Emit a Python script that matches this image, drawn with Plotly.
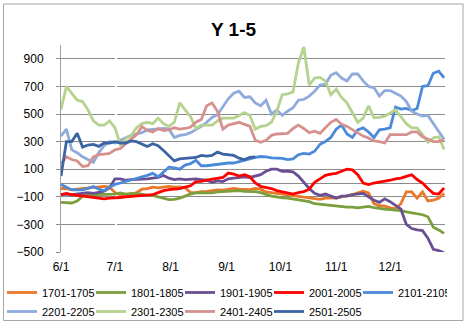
import pandas as pd
import plotly.graph_objects as go

# Sample dates: every third day from 1 June to 31 December
dates = pd.date_range("2019-06-01", periods=72, freq="3D")

s1701 = [-40, -40, -48, -45, -40, -38, -35, -30, -25, -30, -70, -85, -85, -85, -70, -45,
         -40, -30, -35, -30, -25, -30, -28, -35, -70, -70, -62, -60, -55, -50, -52, -48,
         -40, -45, -45, -48, -40, -45, -65, -72, -75, -80, -85, -90, -97, -100, -105, -115,
         -118, -110, -110, -108, -100, -95, -85, -72, -60, -72, -150, -165, -168, -180, -185, -150,
         -65, -65, -110, -65, -130, -125, -110, -75]
s1801 = [-140, -140, -145, -130, -95, -85, -85, -85, -85, -82, -80, -72, -80, -75, -75, -80,
         -90, -90, -100, -110, -120, -118, -110, -95, -80, -72, -72, -75, -72, -65, -62, -60,
         -58, -55, -60, -60, -62, -70, -85, -95, -100, -108, -110, -115, -120, -125, -135, -150,
         -155, -160, -165, -168, -170, -175, -175, -180, -175, -170, -178, -185, -190, -193, -195, -200,
         -210, -215, -225, -230, -245, -320, -340, -365]
s1901 = [-85, -80, -85, -80, -75, -70, -75, -70, -60, -35, 30, 30, 20, 25, 25, 30,
         30, 35, 40, 55, 35, 25, 30, 25, 30, 30, 25, 20, 5, 15, 10, 30,
         35, 40, 45, 40, 50, 60, 85, 100, 100, 85, 85, 80, 50, 5, -40, -75,
         -90, -80, -95, -110, -95, -95, -85, -80, -75, -100, -125, -140, -115, -135, -160, -190,
         -300, -330, -340, -345, -400, -480, -490, -505]
s2001 = [-85, -75, -85, -90, -95, -105, -110, -115, -115, -110, -110, -105, -100, -98, -95, -90,
         -90, -85, -70, -55, -48, -45, -40, -30, -20, 10, 12, 20, 25, 30, 40, 72,
         65, 50, 60, 45, 0, -24, -30, -40, -55, -62, -72, -80, -70, -62, -45, 5,
         30, 55, 65, 70, 85, 100, 95, 60, 0, -12, 0, 5, 10, 20, 30, 35,
         48, 60, 25, 0, -40, -75, -80, -36]
s2101 = [-10, -30, -50, -50, -50, -40, -25, -45, -55, -30, -10, 0, 10, 20, 30, 45,
         55, 70, 45, 80, 115, 110, 100, 130, 140, 165, 125, 125, 130, 140, 145, 145,
         145, 155, 170, 180, 185, 192, 190, 182, 180, 178, 170, 175, 205, 215, 210, 230,
         280, 300, 330, 390, 420, 355, 330, 385, 400, 370, 330, 385, 390, 400, 550, 535,
         540, 525, 540, 700, 705, 795, 810, 762]
s2201 = [340, 390, 240, 220, 190, 170, 150, 220, 270, 300, 290, 310, 330, 345, 355, 365,
         385, 390, 395, 395, 390, 330, 345, 350, 365, 385, 410, 440, 475, 495, 555, 610,
         650, 665, 620, 625, 580, 560, 600, 500, 530, 490, 520, 545, 600, 605, 630, 665,
         710, 715, 780, 800, 760, 740, 790, 790, 740, 700, 690, 630, 670, 670, 650, 630,
         590, 520, 500, 485, 490, 430, 380, 315]
s2301 = [533, 700, 650, 600, 590, 530, 450, 420, 420, 450, 400, 280, 320, 345, 400, 430,
         440, 430, 470, 430, 410, 440, 580, 530, 480, 395, 420, 420, 420, 450, 470, 470,
         470, 490, 510, 490, 390, 410, 415, 440, 520, 640, 645, 660, 870, 985, 710, 760,
         765, 740, 640, 680, 620, 580, 510, 440, 470, 560, 472, 475, 484, 509, 530, 480,
         430, 400, 400, 350, 295, 327, 335, 243]
s2401 = [140, 190, 170, 160, 120, 125, 190, 205, 210, 215, 240, 250, 285, 320, 350, 410,
         380, 370, 395, 380, 385, 400, 390, 395, 405, 440, 460, 560, 580, 520, 390, 420,
         430, 440, 425, 412, 310, 295, 310, 345, 355, 355, 360, 395, 420, 395, 365, 375,
         360, 400, 440, 460, 425, 410, 385, 360, 340, 325, 305, 300, 290, 350, 350, 355,
         350, 370, 370, 335, 320, 300, 300, 315]
s2501 = [50, 300, 300, 360, 260, 275, 280, 265, 290, 290, 300, 290, 290, 305, 300, 280,
         265, 285, 270, 235, 195, 160, 175, 180, 185, 185, 200, 195, 200, 225, 210, 205,
         200, 180, 170, 185, 190] + [None] * 35

names = ["1701-1705", "1801-1805", "1901-1905", "2001-2005", "2101-2105",
         "2201-2205", "2301-2305", "2401-2405", "2501-2505"]
series = [s1701, s1801, s1901, s2001, s2101, s2201, s2301, s2401, s2501]
colors = ["#E8792A", "#7A9F3E", "#6A4F92", "#FF0000", "#4A8AD8",
          "#8FAADC", "#B5D28F", "#D6918F", "#3B64A2"]

month_ticks = pd.date_range("2019-06-01", "2019-12-01", freq="MS")
month_labels = [f"{d.month}/{d.day}" for d in month_ticks]

FONT = "Liberation Sans"
GRID = "#8C8C8C"

fig = go.Figure()
for name, vals, col in zip(names, series, colors):
    fig.add_trace(go.Scatter(x=dates, y=vals, name=name, mode="lines",
                             line=dict(color=col, width=2.8)))

# axis line with month ticks along the zero level
fig.add_trace(go.Scatter(x=[], y=[], xaxis="x2", showlegend=False, hoverinfo="skip"))

x_range = [pd.Timestamp("2019-06-01"), pd.Timestamp("2019-12-31 12:00")]

fig.update_layout(
    width=467, height=323,
    margin=dict(l=61, r=22, t=45, b=71, autoexpand=False),
    paper_bgcolor="white", plot_bgcolor="white",
    font=dict(family=FONT, size=12, color="black"),
    title=dict(text="<b>Y 1-5</b>", x=0.5, xanchor="center", y=0.91, yanchor="middle",
               font=dict(family=FONT, size=19, color="black")),
    xaxis=dict(range=x_range, tickvals=month_ticks, ticktext=month_labels,
               showgrid=False, showline=False, zeroline=False, ticks="",
               ticklabelstandoff=6, tickfont=dict(size=12)),
    xaxis2=dict(overlaying="x", matches="x", anchor="free", position=1 / 3,
                tickvals=month_ticks, showticklabels=False, showgrid=False,
                showline=False, ticks="outside", ticklen=4, tickcolor=GRID),
    yaxis=dict(range=[-500, 1000], tick0=-500, dtick=200, showgrid=True,
               gridcolor=GRID, gridwidth=1, zeroline=True, zerolinecolor=GRID,
               zerolinewidth=1, showline=True, linecolor="#A0A0A0", linewidth=1,
               ticks="outside", ticklen=4, tickcolor=GRID, ticklabelstandoff=10,
               tickfont=dict(size=12)),
    legend=dict(orientation="h", x=(2 - 61) / 384, xanchor="left",
                y=(252 - 278) / 207, yanchor="top", entrywidth=44,
                entrywidthmode="pixels", font=dict(family=FONT, size=11),
                bgcolor="rgba(0,0,0,0)", tracegroupgap=0),
    showlegend=True,
)

# chart frame
fig.add_shape(type="rect", xref="paper", yref="paper",
              x0=(3.5 - 61) / 384, x1=(463 - 61) / 384,
              y0=(252 - 320.5) / 207, y1=(252 - 4) / 207,
              line=dict(color="#A6A6A6", width=1), fillcolor="rgba(0,0,0,0)")

fig.write_html("out.html")
